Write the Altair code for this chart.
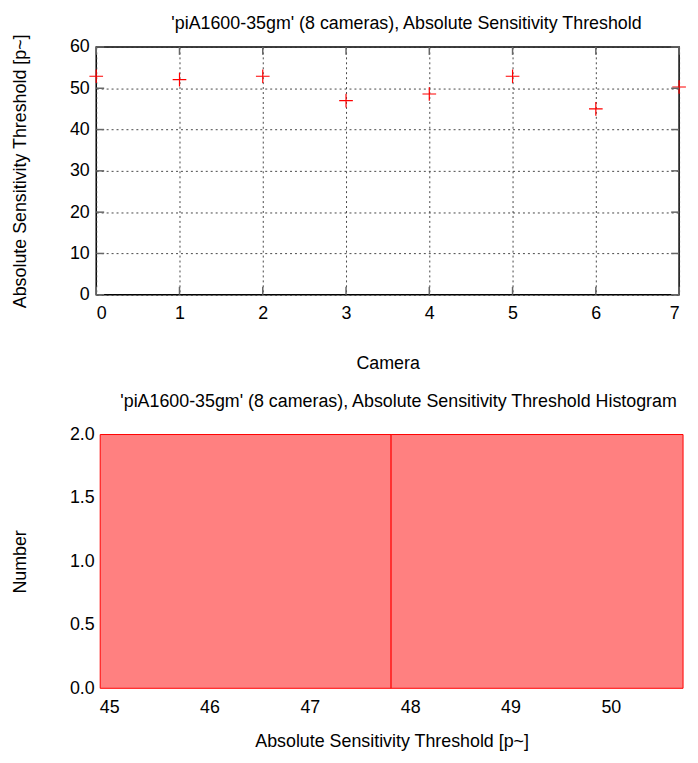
import altair as alt
import pandas as pd

# ---- data ----
cameras = [0, 1, 2, 3, 4, 5, 6, 7]
thresholds = [52.9, 52.1, 52.9, 47.0, 48.6, 52.9, 45.0, 50.3]
x_ticks = [0, 1, 2, 3, 4, 5, 6, 7]
y_ticks = [0, 10, 20, 30, 40, 50, 60]

hist_bin_start = [44.91, 47.81]
hist_bin_end = [47.81, 50.72]
hist_count = [2, 2]
hist_x_ticks = [45, 46, 47, 48, 49, 50]
hist_y_ticks = [0.0, 0.5, 1.0, 1.5, 2.0]

FONT = "Liberation Sans"
FS = 18
W1, H1 = 588, 250
W2, H2 = 592, 256
TICK_COLOR = "#666666"

df = pd.DataFrame({"camera": cameras, "threshold": thresholds})
xt = pd.DataFrame({"camera": x_ticks})
yt = pd.DataFrame({"threshold": y_ticks})

xs = alt.Scale(domain=[min(x_ticks), max(x_ticks)], nice=False, zero=False)
ys = alt.Scale(domain=[min(y_ticks), max(y_ticks)], nice=False)

x_axis = alt.Axis(values=x_ticks, title="Camera", format="d", grid=True, gridDash=[2, 3],
                  gridColor="#333333", gridOpacity=0.9, ticks=False, domain=False,
                  labelPadding=10, titlePadding=32)
y_axis = alt.Axis(values=y_ticks, title="Absolute Sensitivity Threshold [p~]", format="d", grid=True,
                  gridDash=[2, 3], gridColor="#333333", gridOpacity=0.9, ticks=False, domain=False,
                  labelPadding=7, titlePadding=40)

points = alt.Chart(df).mark_point(
    shape="M-1,0L1,0M0,-1L0,1", size=190, color="red", strokeWidth=1.2, filled=False, opacity=1
).encode(
    x=alt.X("camera:Q", scale=xs, axis=x_axis),
    y=alt.Y("threshold:Q", scale=ys, axis=y_axis),
)

tick_top = alt.Chart(xt).mark_rule(color=TICK_COLOR, strokeWidth=1.5).encode(
    x=alt.X("camera:Q", scale=xs, axis=x_axis), y=alt.value(0), y2=alt.value(8))
tick_bot = alt.Chart(xt).mark_rule(color=TICK_COLOR, strokeWidth=1.5).encode(
    x=alt.X("camera:Q", scale=xs, axis=x_axis), y=alt.value(H1 - 8), y2=alt.value(H1))
tick_left = alt.Chart(yt).mark_rule(color=TICK_COLOR, strokeWidth=1.5).encode(
    y=alt.Y("threshold:Q", scale=ys, axis=y_axis), x=alt.value(0), x2=alt.value(8))
tick_right = alt.Chart(yt).mark_rule(color=TICK_COLOR, strokeWidth=1.5).encode(
    y=alt.Y("threshold:Q", scale=ys, axis=y_axis), x=alt.value(W1 - 8), x2=alt.value(W1))

top = alt.layer(points, tick_top, tick_bot, tick_left, tick_right).properties(
    width=W1, height=H1,
    title=alt.TitleParams("'piA1600-35gm' (8 cameras), Absolute Sensitivity Threshold",
                          anchor="middle", frame="group", dx=19, offset=1, font=FONT, fontSize=FS,
                          fontWeight="normal", color="black"),
    view=alt.ViewBackground(stroke="black", strokeWidth=1.5),
)

hist = pd.DataFrame({"start": hist_bin_start, "end": hist_bin_end, "count": hist_count})
bottom = alt.Chart(hist).mark_rect(fill="#ff8080", stroke="red", strokeWidth=1).encode(
    x=alt.X("start:Q", scale=alt.Scale(domain=[min(hist_bin_start), max(hist_bin_end)],
                                       range=[4, W2], nice=False, zero=False),
            axis=alt.Axis(values=hist_x_ticks, title="Absolute Sensitivity Threshold [p~]", format="d",
                          grid=False, ticks=False, domain=False, labelPadding=10, titlePadding=17)),
    x2="end:Q",
    y=alt.Y("count:Q", scale=alt.Scale(domain=[min(hist_y_ticks), max(hist_y_ticks)], nice=False),
            axis=alt.Axis(values=hist_y_ticks, title="Number", format=".1f", grid=False, ticks=False,
                          domain=False, labelPadding=2, titlePadding=40)),
    y2=alt.datum(0),
).properties(
    width=W2, height=H2,
    title=alt.TitleParams("'piA1600-35gm' (8 cameras), Absolute Sensitivity Threshold Histogram",
                          anchor="middle", frame="group", dx=9, offset=15, font=FONT, fontSize=FS,
                          fontWeight="normal", color="black"),
    view=alt.ViewBackground(strokeWidth=0),
)

chart = alt.concat(top, bottom, columns=1, spacing=20).properties(
    padding={"left": 3, "top": 2, "right": 0, "bottom": 0}
).configure_axis(
    labelFont=FONT, labelFontSize=FS, labelColor="black",
    titleFont=FONT, titleFontSize=FS, titleColor="black", titleFontWeight="normal",
).configure_view(stroke=None)

chart.save("out.html", embed_options={"renderer": "svg", "actions": False})
